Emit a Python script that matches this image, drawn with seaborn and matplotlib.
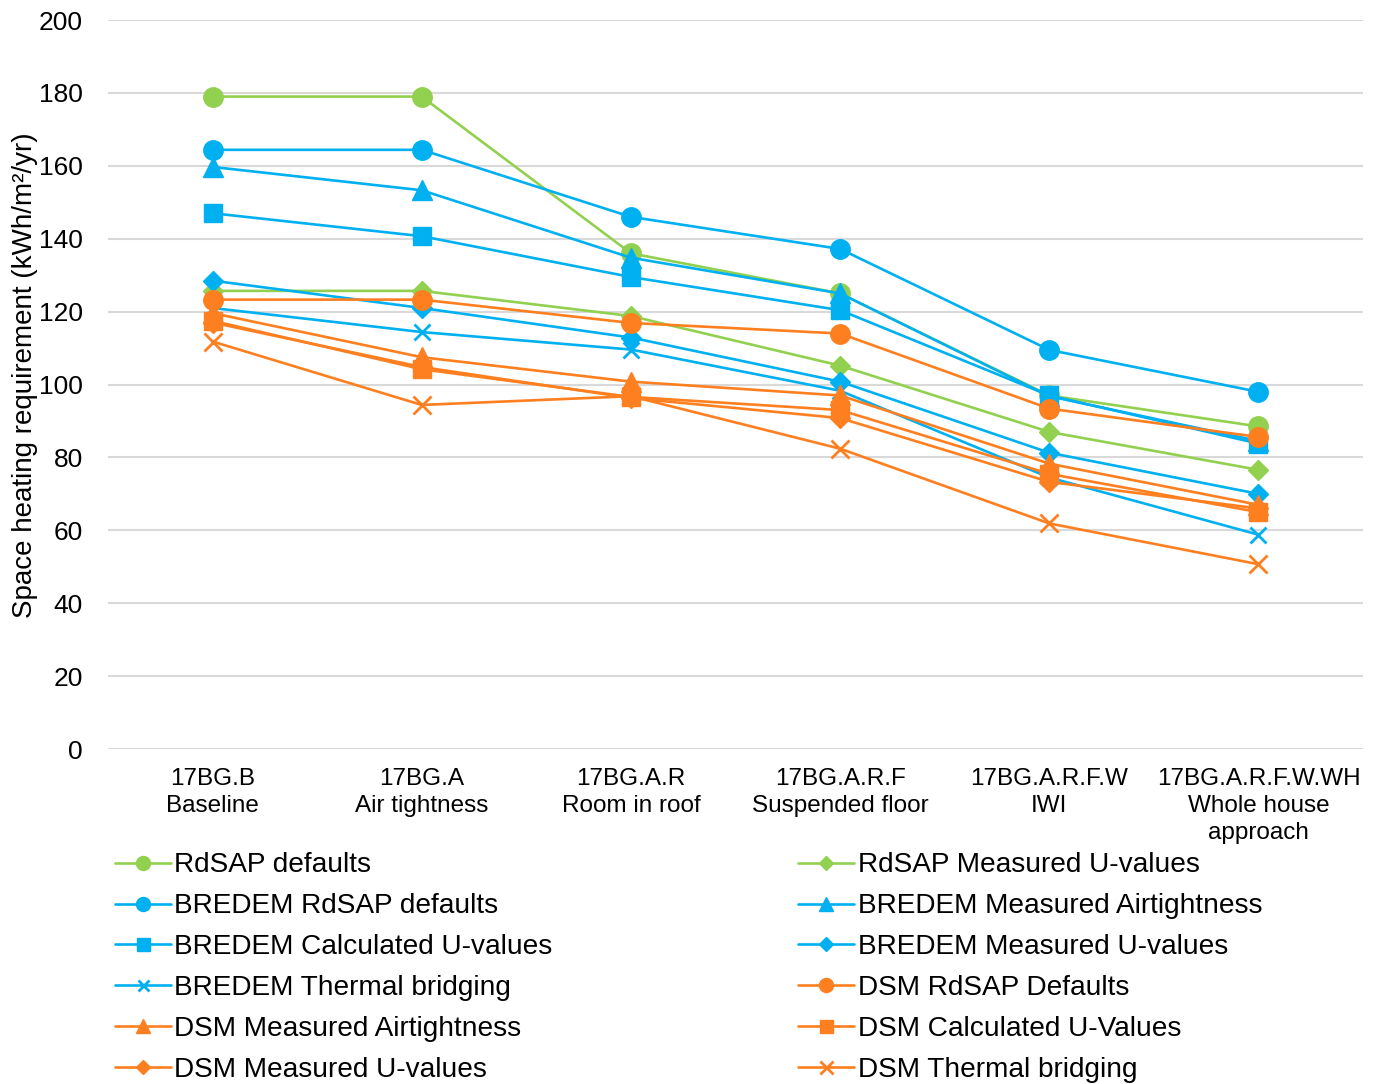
import matplotlib
matplotlib.use("Agg")
import matplotlib.pyplot as plt
import seaborn as sns
import pandas as pd

# Retrofit stages (x axis)
stages = [
    "17BG.B\nBaseline",
    "17BG.A\nAir tightness",
    "17BG.A.R\nRoom in roof",
    "17BG.A.R.F\nSuspended floor",
    "17BG.A.R.F.W\nIWI",
    "17BG.A.R.F.W.WH\nWhole house\napproach",
]

# Space heating requirement (kWh/m²/yr) per model scenario
rdsap_defaults = [179, 179, 136, 125, 97, 88.5]
rdsap_measured_u = [125.7, 125.7, 118.8, 105.2, 87, 76.6]
bredem_rdsap_defaults = [164.4, 164.4, 146, 137.2, 109.5, 98]
bredem_measured_air = [159.7, 153.3, 134.8, 125, 96.8, 84.5]
bredem_calc_u = [147, 140.7, 129.5, 120.4, 97, 83.8]
bredem_measured_u = [128.5, 121, 112.9, 100.8, 81.3, 70]
bredem_thermal_bridging = [121, 114.4, 109.6, 98.3, 74.5, 58.8]
dsm_rdsap_defaults = [123.3, 123.3, 116.9, 114, 93.4, 85.6]
dsm_measured_air = [119.6, 107.5, 100.8, 97, 78.3, 67]
dsm_calc_u = [117.5, 104.2, 96.6, 93, 75.5, 65]
dsm_measured_u = [117, 104.8, 96.3, 90.8, 73.3, 66]
dsm_thermal_bridging = [111.8, 94.4, 96.8, 82.4, 61.9, 50.7]

GREEN = "#92D050"
BLUE = "#00B0F0"
ORANGE = "#FD7F20"

series = [
    ("RdSAP defaults", rdsap_defaults, GREEN, "o", 14),
    ("RdSAP Measured U-values", rdsap_measured_u, GREEN, "D", 10),
    ("BREDEM RdSAP defaults", bredem_rdsap_defaults, BLUE, "o", 14),
    ("BREDEM Measured Airtightness", bredem_measured_air, BLUE, "^", 14),
    ("BREDEM Calculated U-values", bredem_calc_u, BLUE, "s", 13),
    ("BREDEM Measured U-values", bredem_measured_u, BLUE, "D", 10),
    ("BREDEM Thermal bridging", bredem_thermal_bridging, BLUE, "x", 11),
    ("DSM RdSAP Defaults", dsm_rdsap_defaults, ORANGE, "o", 14),
    ("DSM Measured Airtightness", dsm_measured_air, ORANGE, "^", 14),
    ("DSM Calculated U-Values", dsm_calc_u, ORANGE, "s", 13),
    ("DSM Measured U-values", dsm_measured_u, ORANGE, "D", 10),
    ("DSM Thermal bridging", dsm_thermal_bridging, ORANGE, "x", 13),
]

sns.set_theme(style="white")
plt.rcParams["font.family"] = ["Liberation Sans", "DejaVu Sans"]
for key in ("text.color", "axes.labelcolor", "xtick.color", "ytick.color"):
    plt.rcParams[key] = "black"

fig = plt.figure(figsize=(13.76, 10.84), dpi=100)
ax = fig.add_axes([0.0785, 0.309, 0.9121, 0.6725])

for name, values, color, marker, ms in series:
    df = pd.DataFrame({"stage": range(len(stages)), "value": values})
    sns.lineplot(
        data=df, x="stage", y="value", ax=ax, color=color, marker=marker,
        markersize=ms, markeredgecolor=color, markerfacecolor=color,
        markeredgewidth=2.0 if marker == "x" else 1.0,
        linewidth=1.9, label=name, sort=False,
    )

ax.set_xlim(-0.5, len(stages) - 0.5)
ax.set_ylim(0, 200)
ax.set_yticks(range(0, 201, 20))
ax.set_xticks(range(len(stages)))
ax.set_xticklabels(stages, fontsize=17.5, linespacing=1.28)
ax.tick_params(axis="y", labelsize=19, pad=18, length=0)
ax.tick_params(axis="x", pad=14, length=0)
ax.yaxis.grid(True, color="#D9D9D9", linewidth=1.5)
ax.xaxis.grid(False)
for s in ax.spines.values():
    s.set_visible(False)
ax.set_xlabel("")
ax.set_ylabel("Space heating requirement (kWh/m²/yr)", fontsize=20)
ax.yaxis.set_label_coords(-0.0558, 0.513)

# Legend: two columns, filled row by row
handles, labels = ax.get_legend_handles_labels()
order = list(range(0, len(handles), 2)) + list(range(1, len(handles), 2))
ax.legend(
    [handles[i] for i in order], [labels[i] for i in order],
    ncol=2, loc="upper left", bbox_to_anchor=(-0.0035, -0.1265),
    frameon=False, fontsize=20.2, markerscale=0.72, handlelength=2.0,
    handletextpad=0.12, columnspacing=8.75, labelspacing=0.53,
    borderaxespad=0,
)

fig.savefig("out.png", dpi=100)
